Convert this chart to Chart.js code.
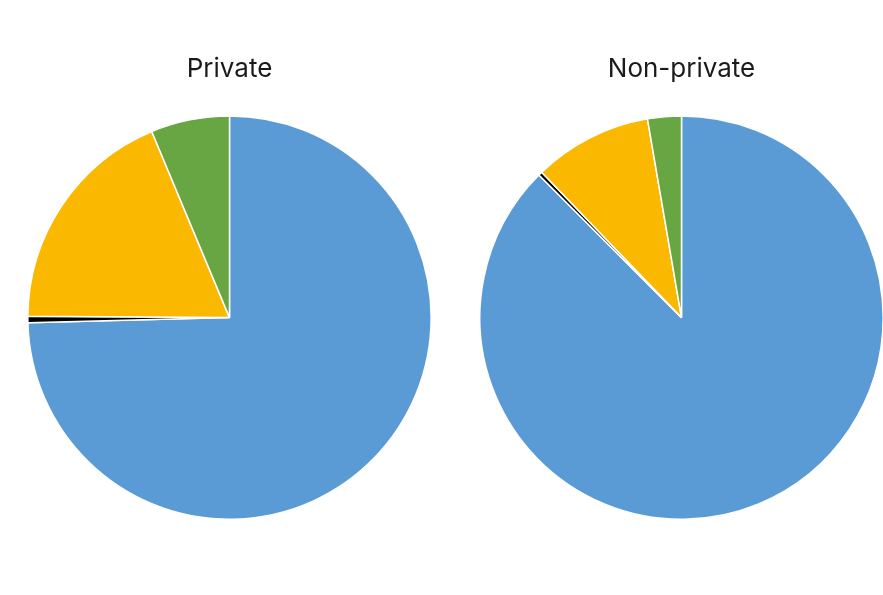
<!DOCTYPE html>
<html>
<head>
<meta charset="utf-8">
<script src="https://cdn.jsdelivr.net/npm/chart.js@4"></script>
<style>
  html, body { margin: 0; padding: 0; background: #fff; overflow: hidden; }
  body { width: 883px; height: 595px; position: relative; }
  .box { position: absolute; top: 45px; width: 405px; height: 475px; }
</style>
</head>
<body>
<div class="box" style="left:27px"><canvas id="privateChart"></canvas></div>
<div class="box" style="left:479px"><canvas id="nonPrivateChart"></canvas></div>
<script>
// shares in percent, clockwise from 12 o'clock
var categories = ['Category A', 'Category B', 'Category C', 'Category D'];
var privateValues = [74.6, 0.5, 18.6, 6.3];
var nonPrivateValues = [87.5, 0.3, 9.5, 2.7];
var colors = ['#5b9bd5', '#000000', '#fbb800', '#67a642'];

function pieChart(id, title, values) {
    var ctx = document.getElementById(id).getContext('2d');
    return new Chart(ctx, {
        type: 'pie',
        data: {
            labels: categories,
            datasets: [{
                data: values,
                backgroundColor: colors,
                borderColor: '#ffffff',
                borderWidth: 1.5
            }]
        },
        options: {
            responsive: true,
            maintainAspectRatio: false,
            animation: false,
            layout: { padding: 0 },
            plugins: {
                legend: { display: false },
                tooltip: { enabled: false },
                title: {
                    display: true,
                    text: title,
                    color: '#1a1a1a',
                    font: { family: 'Inter, Roboto, sans-serif', size: 26, weight: 'normal' },
                    padding: { top: 9, bottom: 30 }
                }
            }
        }
    });
}

pieChart('privateChart', 'Private', privateValues);
pieChart('nonPrivateChart', 'Non-private', nonPrivateValues);
</script>
</body>
</html>
